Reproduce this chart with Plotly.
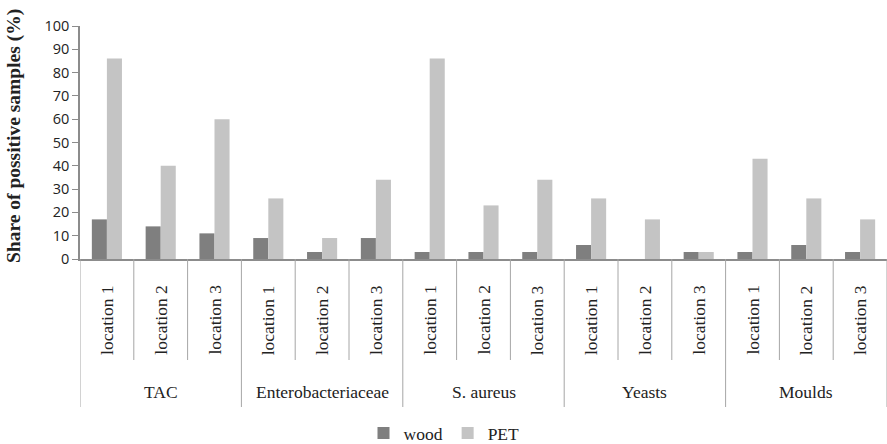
import plotly.graph_objects as go

groups = ["TAC", "Enterobacteriaceae", "S. aureus", "Yeasts", "Moulds"]
locations = ["location 1", "location 2", "location 3"]
wood = [17, 14, 11, 9, 3, 9, 3, 3, 3, 6, 0, 3, 3, 6, 3]
pet = [86, 40, 60, 26, 9, 34, 86, 23, 34, 26, 17, 3, 43, 26, 17]
y_ticks = [0, 10, 20, 30, 40, 50, 60, 70, 80, 90, 100]

W, H = 887, 444
ml, mr, mt, mb = 80, 0, 26, 185
ph = H - mt - mb

n = len(groups) * len(locations)
xs = list(range(n))

serif = "Liberation Serif, Times New Roman, serif"
fig = go.Figure()
fig.add_trace(go.Bar(x=xs, y=wood, name="wood", marker=dict(color="#7f7f7f", line=dict(width=0))))
fig.add_trace(go.Bar(x=xs, y=pet, name="PET", marker=dict(color="#c4c4c4", line=dict(width=0))))

def py(pix):
    return (mt + ph - pix) / ph

shapes = []
annotations = []
for i in range(n + 1):
    boundary_group = (i % len(locations) == 0)
    y1 = py(407) if boundary_group else py(360)
    shapes.append(dict(type="line", xref="x", yref="paper", x0=i - 0.5, x1=i - 0.5,
                       y0=0, y1=y1, line=dict(color="#a6a6a6", width=1)))
for i in range(n):
    annotations.append(dict(x=i, y=py(320), xref="x", yref="paper", text=locations[i % 3],
                            xanchor="center", yanchor="middle",
                            showarrow=False, textangle=-90,
                            font=dict(family=serif, size=17.5, color="#222")))
for g, name in enumerate(groups):
    annotations.append(dict(x=g * 3 + 1, y=py(392), xref="x", yref="paper", text=name,
                            xanchor="center", yanchor="middle",
                            showarrow=False, font=dict(family=serif, size=17.5, color="#222")))
annotations.append(dict(x=0, xref="paper", xshift=-66, y=py(136), yref="paper",
                        xanchor="center", yanchor="middle",
                        text="<b>Share of possitive samples (%)</b>", showarrow=False,
                        textangle=-90, font=dict(family=serif, size=19.5, color="#222")))

fig.update_layout(
    width=W, height=H,
    margin=dict(l=ml, r=mr, t=mt, b=mb, autoexpand=False),
    plot_bgcolor="white", paper_bgcolor="white",
    barmode="group", bargap=0.44, bargroupgap=0,
    showlegend=True,
    legend=dict(orientation="h", x=(444 - ml) / (W - ml - mr), xanchor="center",
                y=py(433), yanchor="middle",
                font=dict(family=serif, size=17.5, color="#222"),
                itemwidth=30, traceorder="normal"),
    shapes=shapes, annotations=annotations,
    xaxis=dict(range=[-0.5, n - 0.5], showticklabels=False, ticks="",
               showline=True, linecolor="#8c8c8c", linewidth=1.5, showgrid=False,
               zeroline=False, fixedrange=True),
    yaxis=dict(range=[0, 100], tickvals=y_ticks, ticks="outside", ticklen=6,
               tickcolor="#8c8c8c", showline=True, linecolor="#8c8c8c", linewidth=1.5,
               showgrid=False, zeroline=False,
               tickfont=dict(family="Open Sans, sans-serif", size=14.5, color="#222")),
)

fig.write_html("out.html", config={"displayModeBar": False},
               post_script="document.body.style.margin='0';")
